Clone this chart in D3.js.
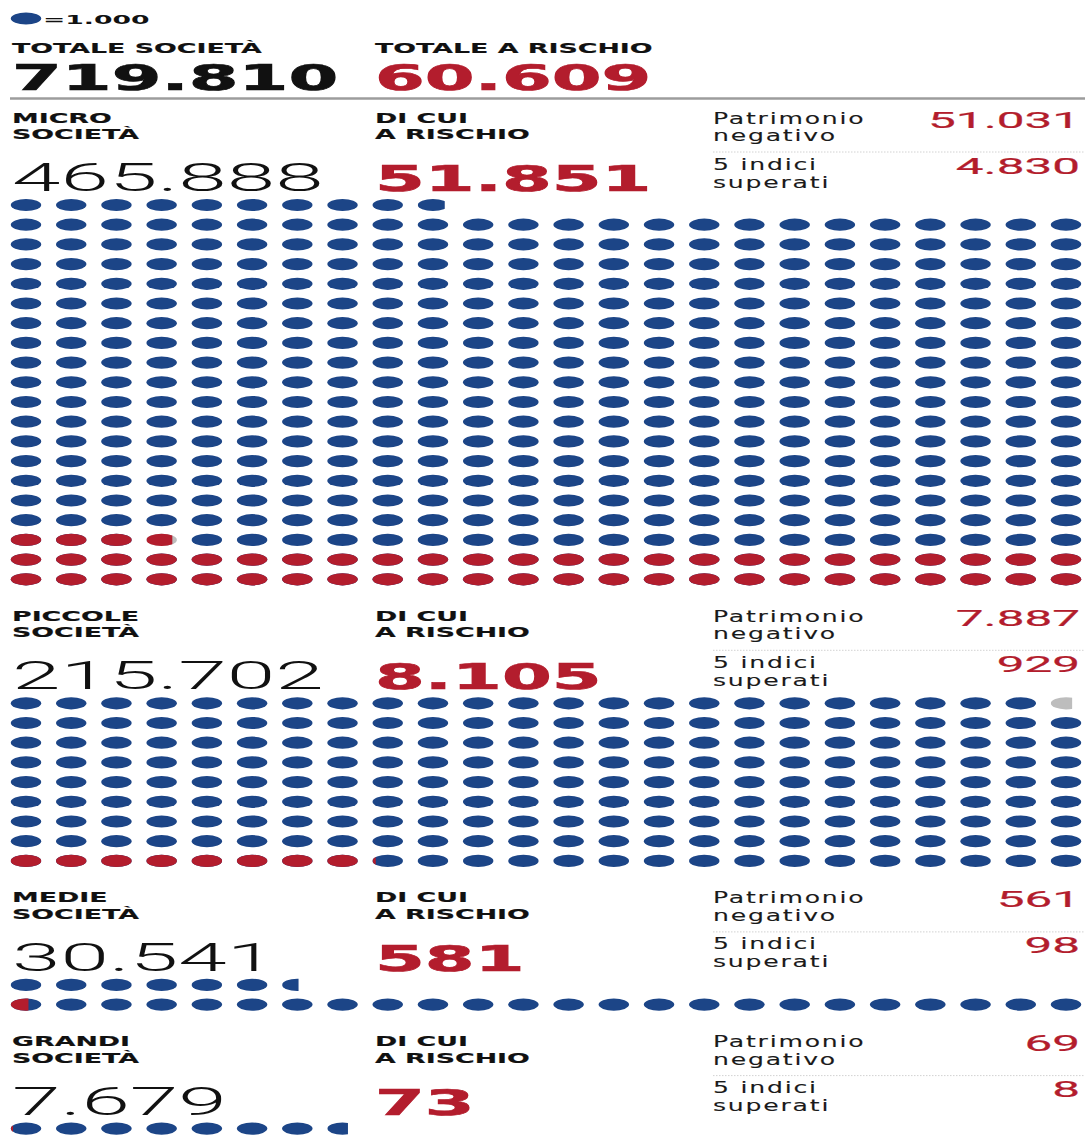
<!DOCTYPE html>
<html>
<head>
<meta charset="utf-8">
<script src="https://cdn.jsdelivr.net/npm/d3@7"></script>
<style>
  body { margin: 0; background: #fff; }
  svg { display: block; }
</style>
</head>
<body>
<script>
// one dot = 1.000 companies
const unit = 1000;
const grandTotal = 719810;
const grandRisk = 60609;

const categories = [["MICRO", "SOCIETÀ"], ["PICCOLE", "SOCIETÀ"], ["MEDIE", "SOCIETÀ"], ["GRANDI", "SOCIETÀ"]];
const totals = [465888, 215702, 30541, 7679];
const atRisk = [51851, 8105, 581, 73];
const negEquity = [51031, 7887, 561, 69];
const fiveIndices = [4830, 929, 98, 8];
// which partial dot was printed grey in the original
const greyTotalPartial = [false, true, false, false];
const greyRiskRemainder = [true, false, false, false];

const riskLabel = ["DI CUI", "A RISCHIO"];
const sideLabels = [["Patrimonio", "negativo"], ["5 indici", "superati"]];

const W = 1085, H = 1140;
const cols = 24;
const blue = "#1c4587", red = "#b31d2d", grey = "#bdbdbd", ink = "#111";
const rx = 15.2, ry = 6.1, rowStep = 19.7;

const fmt = d3.formatLocale({ decimal: ",", thousands: ".", grouping: [3], currency: ["", "€"] }).format(",");

const svg = d3.select("body").append("svg")
  .attr("width", W)
  .attr("height", H);

const defs = svg.append("defs");

const styles = {
  caps:  { family: "DejaVu Sans", weight: 700, size: 14.5, sx: 1.85, ls: 0, fill: ink, sw: 0.15 },
  big:   { family: "DejaVu Sans", weight: 700, size: 36, sx: 1.99, ls: 0, fill: ink, sw: 0.7 },
  light: { family: "Roboto", weight: 300, size: 38, sx: 2.3, ls: 0, fill: ink, sw: 0 },
  side:  { family: "DejaVu Sans", weight: 400, size: 15.5, sx: 1.62, ls: 1.1, fill: "#1a1a1a", sw: 0.1 },
  value: { family: "Roboto", weight: 400, size: 21.5, sx: 2.3, ls: 0, fill: red, sw: 0.2 },
  legend:{ family: "DejaVu Sans", weight: 700, size: 13, sx: 2.05, ls: 0, fill: ink, sw: 0 }
};

function addText(g, str, x, y, st, opts = {}) {
  const fill = opts.fill || st.fill;
  return g.append("text")
    .attr("transform", `translate(${x},${y}) scale(${st.sx},1)`)
    .attr("font-family", st.family)
    .attr("font-weight", st.weight)
    .attr("font-size", st.size)
    .attr("letter-spacing", st.ls)
    .attr("text-anchor", opts.anchor || "start")
    .attr("fill", fill)
    .attr("stroke", st.sw ? fill : "none")
    .attr("stroke-width", st.sw)
    .text(str);
}

// legend
svg.append("ellipse")
  .attr("cx", 26).attr("cy", 18.5)
  .attr("rx", rx).attr("ry", ry)
  .attr("fill", blue);
addText(svg, "=1.000", 43, 24, styles.legend);

// totals
addText(svg, "TOTALE SOCIETÀ", 12, 52.5, styles.caps);
addText(svg, fmt(grandTotal), 12, 89.5, styles.big);
addText(svg, "TOTALE A RISCHIO", 375, 52.5, styles.caps);
addText(svg, fmt(grandRisk), 375, 89.5, styles.big, { fill: red });

svg.append("line")
  .attr("x1", 10).attr("x2", W)
  .attr("y1", 98.5).attr("y2", 98.5)
  .attr("stroke", "#9c9c9c")
  .attr("stroke-width", 2.5);

const x = d3.scaleLinear().domain([0, cols - 1]).range([26, 1066]);

let L = 122.5; // baseline of the first label line of a section

categories.forEach((cat, i) => {
  const g = svg.append("g");

  // labels
  cat.forEach((t, j) => addText(g, t, 12, L + j * 16.6, styles.caps));
  riskLabel.forEach((t, j) => addText(g, t, 375, L + j * 16.6, styles.caps));
  addText(g, fmt(totals[i]), 12, L + 68.5, styles.light);
  addText(g, fmt(atRisk[i]), 375, L + 68.5, styles.big, { fill: red });

  sideLabels[0].forEach((t, j) => addText(g, t, 713, L + 1 + j * 17.5, styles.side));
  sideLabels[1].forEach((t, j) => addText(g, t, 713, L + 47 + j * 18, styles.side));
  addText(g, fmt(negEquity[i]), 1080, L + 5, styles.value, { anchor: "end" });
  addText(g, fmt(fiveIndices[i]), 1080, L + 51, styles.value, { anchor: "end" });

  g.append("line")
    .attr("x1", 713).attr("x2", W)
    .attr("y1", L + 29.5).attr("y2", L + 29.5)
    .attr("stroke", "#d2d2d2")
    .attr("stroke-width", 1)
    .attr("stroke-dasharray", "1.5,1.5");

  // dots, filled from the bottom row, left to right, upwards
  const n = Math.ceil(totals[i] / unit);
  const nRows = Math.ceil(n / cols);
  const top = L + 82.5;
  const y = d3.scaleLinear().domain([0, nRows - 1]).range([top, top + (nRows - 1) * rowStep]);
  const lastFrac = totals[i] / unit - (n - 1);
  const redUnits = atRisk[i] / unit;

  const dots = d3.range(n).map(k => {
    const redFrac = Math.max(0, Math.min(1, redUnits - k));
    const fullFrac = k === n - 1 ? lastFrac : 1;
    let base = blue;
    if (k === n - 1 && greyTotalPartial[i]) base = grey;
    if (redFrac > 0 && redFrac < 1 && greyRiskRemainder[i]) base = grey;
    return {
      k,
      cx: x(k % cols),
      cy: y(nRows - 1 - Math.floor(k / cols)),
      pieces: [
        { color: base, frac: fullFrac },
        ...(redFrac > 0 ? [{ color: red, frac: Math.min(redFrac, fullFrac) }] : [])
      ]
    };
  });

  const dg = g.append("g");
  dots.forEach(d => {
    d.pieces.forEach((p, pi) => {
      const e = dg.append("ellipse")
        .attr("cx", d.cx).attr("cy", d.cy)
        .attr("rx", rx).attr("ry", ry)
        .attr("fill", p.color);
      if (p.frac < 1) {
        const id = `clip-${i}-${d.k}-${pi}`;
        defs.append("clipPath").attr("id", id)
          .append("rect")
          .attr("x", d.cx - rx)
          .attr("y", d.cy - ry - 1)
          .attr("width", 2 * rx * p.frac)
          .attr("height", 2 * ry + 2);
        e.attr("clip-path", `url(#${id})`);
      }
    });
  });

  L = y(nRows - 1) + 41.5;
});
</script>
</body>
</html>
